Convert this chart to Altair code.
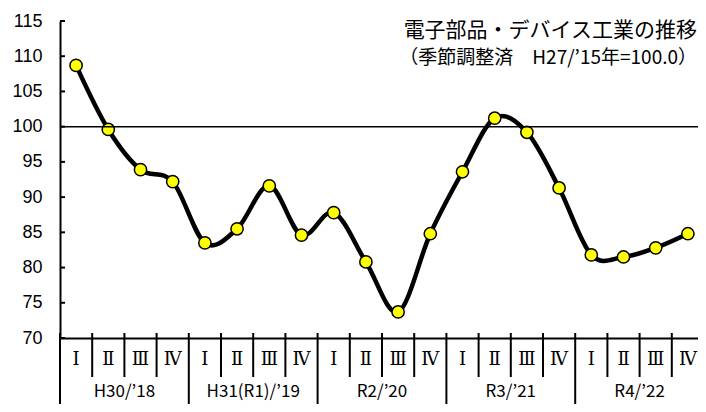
import altair as alt
import pandas as pd

# ---- data ----
quarter_labels = ["Ⅰ", "Ⅱ", "Ⅲ", "Ⅳ"] * 5
year_labels = ["H30/’18", "H31(R1)/’19", "R2/’20", "R3/’21", "R4/’22"]
values = [108.7, 99.6, 93.9, 92.2, 83.5, 85.5, 91.6, 84.6, 87.8, 80.8,
          73.7, 84.8, 93.6, 101.2, 99.2, 91.3, 81.8, 81.5, 82.8, 84.8]
y_ticks = [70, 75, 80, 85, 90, 95, 100, 105, 110, 115]
baseline = [100]
title_lines = ["電子部品・デバイス工業の推移", "（季節調整済　H27/’15年=100.0）"]

# ---- tables ----
n = len(values)
df = pd.DataFrame({"pos": [i + 0.5 for i in range(n)], "value": values, "q": quarter_labels})
df_base = pd.DataFrame({"value": baseline})
df_ticks = pd.DataFrame({"value": y_ticks})
df_qsep = pd.DataFrame({"pos": [i for i in range(1, n) if i % 4 != 0]})
df_ysep = pd.DataFrame({"pos": [i for i in range(0, n + 1, 4)]})
df_years = pd.DataFrame({"pos": [4 * k + 2 for k in range(len(year_labels))], "label": year_labels})
df_t1 = pd.DataFrame({"t": [title_lines[0]]})
df_t2 = pd.DataFrame({"t": [title_lines[1]]})

xs = alt.Scale(domain=[0, n], range=[0, 644])
ys = alt.Scale(domain=[70, 115])

x_axis = alt.Axis(labels=False, ticks=False, grid=False, domainColor="black",
                  domainWidth=2, title=None)
y_axis = alt.Axis(values=y_ticks, tickCount=10, ticks=False, grid=False, domainColor="black",
                  domainWidth=2, labelFont="Liberation Sans", labelFontSize=18,
                  labelColor="black", labelPadding=18, labelOverlap=False, title=None)

line = alt.Chart(df).mark_line(color="black", strokeWidth=4.5, interpolate="cardinal").encode(
    x=alt.X("pos:Q", scale=xs, axis=x_axis),
    y=alt.Y("value:Q", scale=ys, axis=y_axis),
)

points = alt.Chart(df).mark_point(filled=True, fill="#FFFF00", stroke="black",
                                  strokeWidth=1.5, size=150, opacity=1, shape="circle").encode(
    x=alt.X("pos:Q", scale=xs, axis=x_axis),
    y=alt.Y("value:Q", scale=ys, axis=y_axis),
)

base_rule = alt.Chart(df_base).mark_rule(color="black", strokeWidth=1.5).encode(
    y=alt.Y("value:Q", scale=ys, axis=y_axis),
    x=alt.value(0),
    x2=alt.value(660),
)

ytick_rules = alt.Chart(df_ticks).mark_rule(color="black", strokeWidth=2).encode(
    y=alt.Y("value:Q", scale=ys, axis=y_axis),
    x=alt.value(0),
    x2=alt.value(5),
)

qsep = alt.Chart(df_qsep).mark_rule(color="black", strokeWidth=2).encode(
    x=alt.X("pos:Q", scale=xs, axis=x_axis),
    y=alt.value(312),
    y2=alt.value(356),
)

ysep = alt.Chart(df_ysep).mark_rule(color="black", strokeWidth=2).encode(
    x=alt.X("pos:Q", scale=xs, axis=x_axis),
    y=alt.value(312),
    y2=alt.value(400),
)

qtext = alt.Chart(df).mark_text(font="DejaVu Serif", fontSize=18, color="black",
                                baseline="middle", align="center").encode(
    x=alt.X("pos:Q", scale=xs, axis=x_axis),
    y=alt.value(339),
    text="q:N",
)

ytext = alt.Chart(df_years).mark_text(font="Noto Sans CJK JP", fontSize=17, color="black",
                                      baseline="alphabetic", align="center").encode(
    x=alt.X("pos:Q", scale=xs, axis=x_axis),
    y=alt.value(376),
    text="label:N",
)

t1 = alt.Chart(df_t1).mark_text(font="Noto Sans CJK JP", fontSize=21, color="black",
                                baseline="alphabetic", align="right").encode(
    x=alt.value(637), y=alt.value(16), text="t:N")
t2 = alt.Chart(df_t2).mark_text(font="Noto Sans CJK JP", fontSize=19, color="black",
                                baseline="alphabetic", align="right").encode(
    x=alt.value(637), y=alt.value(43), text="t:N")

chart = alt.layer(
    line, points, base_rule, ytick_rules, qsep, ysep, qtext, ytext, t1, t2
).properties(
    width=638,
    height=317,
    autosize=alt.AutoSizeParams(type="none"),
    padding={"left": 52, "top": 13, "right": 0, "bottom": 66},
    background="white",
).configure_view(strokeWidth=0)

chart.save("out.html", embed_options={"renderer": "svg", "actions": False})
